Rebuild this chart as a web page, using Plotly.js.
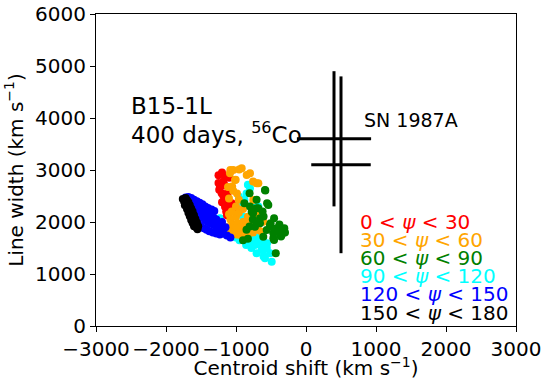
<!DOCTYPE html>
<html>
<head>
<meta charset="utf-8">
<script src="https://cdn.plot.ly/plotly-3.0.1.min.js"></script>
<style>html,body{margin:0;padding:0;background:#fff;}#chart{width:545px;height:380px;}</style>
</head>
<body>
<div id="chart"></div>
<script>
// ---- data ----
var groupLabels = ["0 &lt; <i>ψ</i> &lt; 30", "30 &lt; <i>ψ</i> &lt; 60", "60 &lt; <i>ψ</i> &lt; 90",
                   "90 &lt; <i>ψ</i> &lt; 120", "120 &lt; <i>ψ</i> &lt; 150", "150 &lt; <i>ψ</i> &lt; 180"];
var groupColors = ["#ff0000", "#ffa500", "#008000", "#00ffff", "#0000ff", "#000000"];

var redX = [-1157,-1229,-1205,-1133,-1157,-1061,-1086,-1110,-1181,-1250,-1200,-1240,-1180,-1160,-1120,-1100,-1140,-1050,-1020,-1130,-1200,-1250,-1100];
var redY = [2872,2679,2551,2423,2295,2359,2615,2198,2775,2900,2950,2620,2500,2700,2560,2300,2200,2250,2300,2130,2380,2750,2850];

var orangeX = [-1039,-919,-800,-847,-1014,-1086,-1080,-955,-706,-756,-1005,-1055,-681,-753,-1114,-986,-1100,-1040,-960,
               -705,-610,-753,-681,-705,-633,
               -1100,-1080,-1050,-1020,-1000,-980,-950,-920,-900,-870,-850,-830,-1120,-1080,-1040,-990,-940,-880,-820,-800,-760,-1060,-960,-900,-1000,-850];
var orangeY = [3000,3033,2937,2904,2808,2937,3000,3010,2747,2779,2811,2683,2744,2423,2673,2550,2450,2600,2430,
               2135,2006,1974,1846,1878,1814,
               2150,2050,1950,1850,2100,1980,1880,1790,2000,1900,1800,2100,1900,1800,1770,1760,1750,1770,1780,1850,1800,2200,2180,2250,2300,2000];

var greenX = [-581,-556,-806,-706,-681,-756,-606,-456,-506,-407,-332,-357,-456,-432,-806,-706,-880,-586,-538,-705,-776,-657,-729,-514,-419,-324,-348,-467,-562,-610,-443,-371,-467,-657,-514,-300,-310,-380,-800,-760,-620,-850,-900,-830];
var greenY = [2606,2362,2555,2426,2266,2169,2105,2073,1977,1848,1848,1720,1656,1400,1913,1977,2362,2615,2327,2263,2198,2071,1910,1942,1878,1814,1750,1782,1846,1717,1846,1750,1686,1974,1910,1800,1880,1950,2300,2050,2200,1850,1650,1680];

var cyanX = [-729,-610,-586,-490,-514,-657,-753,-633,-800,-896,-1000,-950,-855,-706,-606,-556,-830,-880,-1320,-1230,-1270,-700,-560,-780,-640,-900,-950,-800,-850,-750,-960,-680];
var cyanY = [1558,1462,1302,1237,1398,1622,1590,1462,1686,1717,1700,1650,1560,1400,1335,1592,2715,2426,1980,2073,1900,1700,1500,1500,1550,2100,2350,2650,2550,2350,2490,2300];

var blueX = [-1720,-1680,-1640,-1600,-1560,-1520,-1480,-1440,-1400,-1350,-1310,
             -1640,-1600,-1560,-1520,-1480,-1440,-1400,-1360,-1320,-1280,
             -1600,-1560,-1520,-1480,-1440,-1400,-1360,-1320,-1280,-1240,-1200,
             -1540,-1500,-1460,-1420,-1380,-1330,-1280,-1230,-1180,-1130,-1080,-1200,-1150];
var blueY = [2470,2480,2460,2430,2400,2370,2340,2300,2270,2240,2210,
             2380,2340,2300,2260,2230,2190,2150,2120,2080,2050,
             2200,2160,2120,2080,2040,2000,1970,1940,1900,1960,2000,
             1960,1920,1880,1850,1820,1800,1780,1760,1780,1740,1700,1850,1900];

var blackX = [-1760,-1720,-1700,-1740,-1710,-1680,-1730,-1690,-1660,-1700,-1670,-1640,-1680,-1650,-1620,-1660,-1630,-1600,-1640,-1610,-1580,-1620,-1590,-1560,-1600,-1570,-1540,-1550];
var blackY = [2440,2460,2420,2390,2350,2380,2320,2300,2320,2250,2240,2260,2180,2170,2200,2110,2100,2130,2040,2030,2060,1980,1960,1990,1920,1900,1920,1860];

// SN 1987A measurements
var snX = [400, 500];
var snY = [3600, 3100];
var snXerr = [530, 425];
var snYerr = [1300, 1700];

var xTicks = [-3000,-2000,-1000,0,1000,2000,3000];
var xTickText = ["−3000","−2000","−1000","0","1000","2000","3000"];
var yTicks = [0,1000,2000,3000,4000,5000,6000];

// ---- traces ----
var FONT = "DejaVu Sans, sans-serif";
function pts(x, y, c) {
  return {x: x, y: y, type: "scatter", mode: "markers", showlegend: false, hoverinfo: "skip",
          marker: {size: 8, color: c, line: {width: 0}}};
}
var traces = [
  pts(cyanX, cyanY, groupColors[3]),
  pts(redX, redY, groupColors[0]),
  pts(orangeX, orangeY, groupColors[1]),
  pts(greenX, greenY, groupColors[2]),
  pts(blueX, blueY, groupColors[4]),
  pts(blackX, blackY, groupColors[5]),
  {x: snX, y: snY, type: "scatter", mode: "markers", showlegend: false, hoverinfo: "skip",
   marker: {size: 1, color: "black"},
   error_x: {type: "data", array: snXerr, symmetric: true, thickness: 3, width: 0, color: "black"},
   error_y: {type: "data", array: snYerr, symmetric: true, thickness: 3, width: 0, color: "black"}}
];

var legendY = [2006, 1660, 1313, 967, 621, 256];
var annotations = [
  {x: -2530, y: 4230, xref: "x", yref: "y", text: "B15-1L", showarrow: false, xanchor: "left", yanchor: "middle",
   font: {family: FONT, size: 23, color: "black"}},
  {x: -2530, y: 3720, xref: "x", yref: "y", text: "400 days, <sup>56</sup>Co", showarrow: false, xanchor: "left", yanchor: "middle",
   font: {family: FONT, size: 23, color: "black"}},
  {x: 800, y: 3971, xref: "x", yref: "y", text: "SN 1987A", showarrow: false, xanchor: "left", yanchor: "middle",
   font: {family: FONT, size: 19, color: "black"}}
];
for (var i = 0; i < groupLabels.length; i++) {
  annotations.push({x: 740, y: legendY[i], xref: "x", yref: "y", text: groupLabels[i], showarrow: false,
    xanchor: "left", yanchor: "middle", font: {family: FONT, size: 20, color: groupColors[i]}});
}

var layout = {
  width: 545, height: 380,
  margin: {l: 96, r: 29, t: 14, b: 54},
  paper_bgcolor: "white", plot_bgcolor: "white",
  font: {family: FONT, size: 20, color: "black"},
  xaxis: {range: [-3000, 3000], tickvals: xTicks, ticktext: xTickText, ticks: "outside", ticklen: 5, tickwidth: 1,
          tickcolor: "black", showline: true, linecolor: "black", linewidth: 1, mirror: true, showgrid: false,
          zeroline: false, tickfont: {family: FONT, size: 20, color: "black"},
          title: {text: "Centroid shift (km s<sup>−1</sup>)", font: {family: FONT, size: 20, color: "black"}, standoff: 4}},
  yaxis: {range: [0, 6000], tickvals: yTicks, ticks: "outside", ticklen: 5, tickwidth: 1,
          tickcolor: "black", showline: true, linecolor: "black", linewidth: 1, mirror: true, showgrid: false,
          zeroline: false, tickfont: {family: FONT, size: 20, color: "black"},
          title: {text: "Line width (km s<sup>−1</sup>)", font: {family: FONT, size: 20, color: "black"}, standoff: 6}},
  annotations: annotations
};

Plotly.newPlot("chart", traces, layout, {displayModeBar: false, staticPlot: true});
</script>
</body>
</html>
